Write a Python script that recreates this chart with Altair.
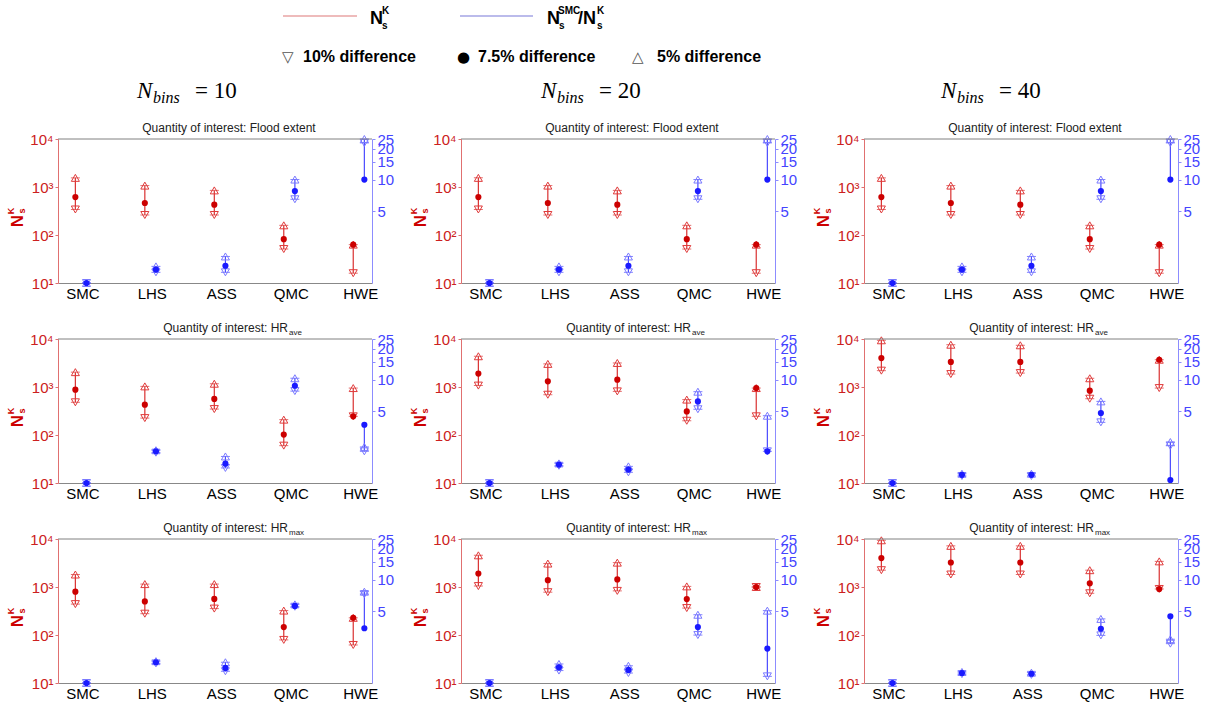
import json
import altair as alt
import pandas as pd

# ---------------- data ----------------
methods = ["SMC", "LHS", "ASS", "QMC", "HWE"]
method_pos = [1, 2, 3, 4, 5]
nbins = [10, 20, 40]
qoi_main = ["Quantity of interest: Flood extent", "Quantity of interest: HR", "Quantity of interest: HR"]
qoi_sub = ["", "ave", "max"]

# N_s^K (left axis) for 10 %, 7.5 % and 5 % difference: [qoi row][nbins col] -> per method
nk_10 = [
    [[340, 261, 261, 51, 16], [340, 261, 261, 51, 16], [340, 261, 261, 51, 16]],
    [[480, 225, 347, 60, 245], [1070, 690, 810, 198, 245], [2190, 1860, 1950, 570, 950]],
    [[440, 278, 355, 79, 62], [1045, 780, 830, 364, 1000], [2240, 1820, 1820, 740, 910]],
]
nk_75 = [
    [[616, 464, 428, 82, 63], [616, 464, 428, 82, 63], [616, 464, 428, 82, 63]],
    [[880, 428, 565, 102, 245], [1900, 1310, 1420, 310, 950], [4000, 3330, 3330, 840, 3700]],
    [[800, 500, 565, 146, 228], [1910, 1390, 1440, 560, 1000], [4000, 3240, 3240, 1190, 910]],
]
nk_5 = [
    [[1550, 1070, 850, 159, 63], [1550, 1070, 850, 159, 63], [1550, 1070, 850, 159, 63]],
    [[2040, 1030, 1170, 209, 950], [4370, 3030, 3170, 547, 950], [9400, 7600, 7400, 1520, 3700]],
    [[1820, 1150, 1150, 323, 228], [4570, 3080, 3220, 1030, 1000], [9400, 7200, 7200, 2240, 3420]],
]
# N_s^SMC / N_s^K (right axis)
ratio_10 = [
    [[1, 1.27, 1.27, 6.5, 22.9], [1, 1.27, 1.27, 6.5, 22.9], [1, 1.27, 1.27, 6.5, 22.9]],
    [[1, 1.97, 1.40, 7.8, 2.03], [1, 1.47, 1.27, 5.2, 2.03], [1, 1.17, 1.17, 3.88, 2.3]],
    [[1, 1.55, 1.30, 5.5, 7.3], [1, 1.32, 1.25, 2.92, 1.16], [1, 1.22, 1.20, 2.9, 2.41]],
]
ratio_75 = [
    [[1, 1.35, 1.47, 7.8, 10.1], [1, 1.35, 1.47, 7.8, 10.1], [1, 1.35, 1.47, 7.8, 10.1]],
    [[1, 2.03, 1.54, 8.8, 3.68], [1, 1.51, 1.35, 6.2, 2.03], [1, 1.20, 1.20, 4.78, 1.07]],
    [[1, 1.59, 1.40, 5.6, 3.4], [1, 1.42, 1.34, 3.49, 2.16], [1, 1.25, 1.23, 3.36, 4.45]],
]
ratio_5 = [
    [[1, 1.45, 1.81, 10.1, 25], [1, 1.45, 1.81, 10.1, 25], [1, 1.45, 1.81, 10.1, 25]],
    [[1, 2.08, 1.81, 10.4, 2.24], [1, 1.55, 1.45, 7.7, 4.5], [1, 1.23, 1.23, 6.2, 2.5]],
    [[1, 1.63, 1.59, 5.8, 7.7], [1, 1.53, 1.47, 4.6, 5.04], [1, 1.28, 1.26, 4.19, 2.66]],
]

# ---------------- style ----------------
W, H = 314, 144
HSP, VSP = 89, 56
RED_DOT = "#cc0000"
RED_LN = "#d93030"
RED_TRI = "#e03a3a"
RED_AX = "#e07070"
RED_TXT = "#cc2020"
BLUE_DOT = "#1a1aff"
BLUE_LN = "#4a4aff"
BLUE_TRI = "#7a7aff"
BLUE_AX = "#8c8cff"
BLUE_TXT = "#4444ff"
FONT = "Liberation Sans"

one = pd.DataFrame({"a": [0]})

xscale = alt.Scale(domain=[0.65, 5.17], nice=False, zero=False)
xaxis = alt.Axis(values=method_pos, labelExpr=json.dumps(methods) + "[datum.value-1]",
                 labelFontSize=15, labelFont=FONT, labelColor="black", domainColor="#888888",
                 ticks=False, labelPadding=3, grid=False, title=None)
rscale = alt.Scale(type="log", domain=[10, 10000], nice=False)
lax = alt.Axis(orient="left", values=[10, 100, 1000, 10000],
               labelExpr="datum.value==10?'10\u00b9':datum.value==100?'10\u00b2':datum.value==1000?'10\u00b3':'10\u2074'",
               labelColor=RED_TXT, labelFontSize=15, labelFont=FONT, domainColor=RED_AX,
               tickColor=RED_AX, tickSize=3, labelPadding=2, grid=False, title=None)
bscale = alt.Scale(type="log", domain=[1, 25], nice=False)
rax = alt.Axis(orient="right", values=[5, 10, 15, 20, 25], format="d", labelOverlap=False,
               labelColor=BLUE_TXT, labelFontSize=15, labelFont=FONT, domainColor=BLUE_AX,
               tickColor=BLUE_AX, tickSize=3, labelPadding=2, grid=False, title=None)


def series(base, xf, lo, hi, p10, p75, p5, yscale, yaxis, ln, tri, dot):
    X = alt.X(f"{xf}:Q", scale=xscale, axis=xaxis, title=None)

    def Y(f):
        return alt.Y(f"{f}:Q", scale=yscale, axis=yaxis, title=None)

    return alt.layer(
        base.mark_rule(color=ln, strokeWidth=1.2).encode(x=X, y=Y(lo), y2=f"{hi}:Q"),
        base.mark_tick(orient="horizontal", color=ln, size=9, thickness=1).encode(x=X, y=Y(p10)),
        base.mark_tick(orient="horizontal", color=ln, size=9, thickness=1).encode(x=X, y=Y(p5)),
        base.mark_point(shape="triangle-down", filled=False, color=tri, size=65, strokeWidth=1,
                        opacity=1).encode(x=X, y=Y(p10)),
        base.mark_point(shape="triangle-up", filled=False, color=tri, size=65, strokeWidth=1,
                        opacity=1).encode(x=X, y=Y(p5)),
        base.mark_circle(color=dot, size=38, opacity=1).encode(x=X, y=Y(p75)),
    )


def txt(s, x, y, size, bold=False, italic=False, font=FONT, color="black", align="left",
        baseline="alphabetic", angle=0):
    kw = dict(text=s, fontSize=size, font=font, color=color, align=align, baseline=baseline)
    if bold:
        kw["fontWeight"] = "bold"
    if italic:
        kw["fontStyle"] = "italic"
    if angle:
        kw["angle"] = angle
    return alt.Chart(one).mark_text(**kw).encode(x=alt.value(x), y=alt.value(y))


def anchor(x):
    return alt.Chart(one).mark_rule(color="white", strokeWidth=1, opacity=0).encode(
        x=alt.value(x), x2=alt.value(x + 5), y=alt.value(0))


def panel(r, c):
    df = pd.DataFrame({
        "pos": method_pos, "method": methods,
        "k10": nk_10[r][c], "k75": nk_75[r][c], "k5": nk_5[r][c],
        "q10": ratio_10[r][c], "q75": ratio_75[r][c], "q5": ratio_5[r][c],
    })
    base = alt.Chart(df).transform_calculate(
        xr="datum.pos - 0.1", xb="datum.pos + 0.06",
        klo="min(datum.k10, datum.k75, datum.k5)", khi="max(datum.k10, datum.k75, datum.k5)",
        qlo="min(datum.q10, datum.q75, datum.q5)", qhi="max(datum.q10, datum.q75, datum.q5)",
    )
    red = series(base, "xr", "klo", "khi", "k10", "k75", "k5", rscale, lax, RED_LN, RED_TRI, RED_DOT)
    blue = series(base, "xb", "qlo", "qhi", "q10", "q75", "q5", bscale, rax, BLUE_LN, BLUE_TRI, BLUE_DOT)
    deco = [alt.Chart(one).mark_rule(color="#808080", strokeWidth=1).encode(
        x=alt.value(0), x2=alt.value(W), y=alt.value(0))]
    if qoi_sub[r]:
        deco.append(txt(qoi_main[r], 230, -7, 12, color="#222222", align="right"))
        deco.append(txt(qoi_sub[r], 231, -4, 8, color="#222222"))
    else:
        deco.append(txt(qoi_main[r], 171, -7, 12, color="#222222", align="center"))
    # left axis title N_s^K (rotated)
    deco.append(txt("N", -35, 82, 17, bold=True, color=RED_DOT, align="center", angle=270))
    deco.append(txt("K", -44, 72, 9, bold=True, color=RED_DOT, align="center", angle=270))
    deco.append(txt("s", -33, 72, 9, bold=True, color=RED_DOT, align="center", angle=270))
    return alt.layer(red, blue, *deco).resolve_scale(y="independent").properties(width=W, height=H)


# ---------------- header (legend + column labels) ----------------
# header coordinates: x relative to the first panel's plot origin (x = 58 on the page)
HX0 = 58
hdr = [anchor(-HX0)]
hdr.append(alt.Chart(one).mark_rule(color="#e8a4a4", strokeWidth=1.5).encode(
    x=alt.value(283 - HX0), x2=alt.value(357 - HX0), y=alt.value(16)))
hdr.append(txt("N", 370 - HX0, 24, 18, bold=True))
hdr.append(txt("K", 382 - HX0, 14, 10, bold=True))
hdr.append(txt("s", 382 - HX0, 29, 10, bold=True))
hdr.append(alt.Chart(one).mark_rule(color="#a4a4e4", strokeWidth=1.5).encode(
    x=alt.value(460 - HX0), x2=alt.value(533 - HX0), y=alt.value(16)))
hdr.append(txt("N", 547 - HX0, 24, 18, bold=True))
hdr.append(txt("SMC", 558 - HX0, 14, 10, bold=True))
hdr.append(txt("s", 559 - HX0, 29, 10, bold=True))
hdr.append(txt("/N", 578 - HX0, 24, 18, bold=True))
hdr.append(txt("K", 597 - HX0, 14, 10, bold=True))
hdr.append(txt("s", 597 - HX0, 29, 10, bold=True))
hdr.append(txt("\u25bd", 282 - HX0, 62, 15, font="DejaVu Sans", color="#555555"))
hdr.append(txt("10% difference", 303 - HX0, 62, 16, bold=True))
hdr.append(txt("\u25cf", 457 - HX0, 62, 15, font="DejaVu Sans"))
hdr.append(txt("7.5% difference", 478 - HX0, 62, 16, bold=True))
hdr.append(txt("\u25b3", 632 - HX0, 62, 15, font="DejaVu Sans", color="#555555"))
hdr.append(txt("5% difference", 657 - HX0, 62, 16, bold=True))
for cx, nb in zip([137, 541, 941], nbins):
    hdr.append(txt("N", cx - HX0, 98, 23, italic=True, font="Liberation Serif"))
    hdr.append(txt("bins", cx + 16 - HX0, 103, 16, italic=True, font="Liberation Serif"))
    hdr.append(txt(f"= {nb}", cx + 58 - HX0, 98, 23, font="Liberation Serif"))
HDR_H = 139 - VSP
header = alt.layer(*hdr).properties(width=W, height=HDR_H)
blank2 = anchor(10).properties(width=W, height=HDR_H)
blank3 = anchor(10).properties(width=W, height=HDR_H)

cells = [header, blank2, blank3] + [panel(r, c) for r in range(3) for c in range(3)]
chart = alt.concat(*cells, columns=3, spacing={"row": VSP, "column": HSP}, bounds="flush").properties(
    padding={"left": 0, "top": 0, "right": 2, "bottom": 4}, background="white"
).configure_view(stroke=None)

chart.save("out.html", embed_options={"renderer": "svg", "actions": False})
